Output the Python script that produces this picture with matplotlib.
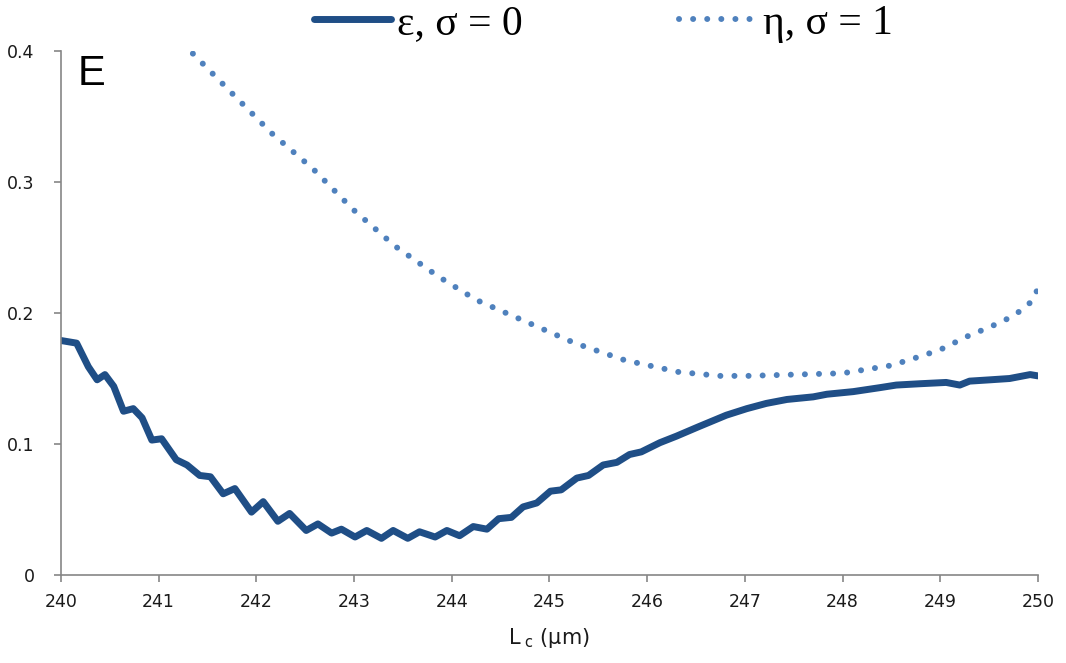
import matplotlib.pyplot as plt
from matplotlib.ticker import FuncFormatter

# values
eps_x = [240.00, 240.16, 240.28, 240.37, 240.45, 240.54, 240.64, 240.74, 240.83, 240.93,
         241.03, 241.18, 241.29, 241.42, 241.53, 241.66, 241.78, 241.95, 242.07, 242.22,
         242.34, 242.51, 242.63, 242.77, 242.87, 243.01, 243.13, 243.28, 243.40, 243.55,
         243.67, 243.83, 243.95, 244.08, 244.22, 244.36, 244.48, 244.61, 244.73, 244.87,
         245.01, 245.12, 245.28, 245.40, 245.55, 245.69, 245.82, 245.94, 246.13, 246.30,
         246.52, 246.81, 247.02, 247.22, 247.43, 247.70, 247.84, 248.11, 248.38, 248.55,
         248.79, 249.06, 249.20, 249.30, 249.51, 249.71, 249.92, 250.00]
eps_y = [0.179, 0.177, 0.159, 0.149, 0.153, 0.144, 0.125, 0.127, 0.120, 0.103,
         0.104, 0.088, 0.084, 0.076, 0.075, 0.062, 0.066, 0.048, 0.056, 0.041,
         0.047, 0.034, 0.039, 0.032, 0.035, 0.029, 0.034, 0.028, 0.034, 0.028,
         0.033, 0.029, 0.034, 0.030, 0.037, 0.035, 0.043, 0.044, 0.052, 0.055,
         0.064, 0.065, 0.074, 0.076, 0.084, 0.086, 0.092, 0.094, 0.101, 0.106,
         0.113, 0.122, 0.127, 0.131, 0.134, 0.136, 0.138, 0.140, 0.143, 0.145,
         0.146, 0.147, 0.145, 0.148, 0.149, 0.150, 0.153, 0.152]

eta_x = [241.35, 241.76, 242.16, 242.58, 242.99, 243.42, 243.86, 244.25, 244.77, 245.26,
         245.77, 246.32, 246.74, 247.03, 247.50, 248.00, 248.50, 248.80, 249.00, 249.30,
         249.50, 249.70, 249.85, 249.95, 250.00]
eta_y = [0.398, 0.367, 0.337, 0.310, 0.279, 0.251, 0.228, 0.210, 0.193, 0.177,
         0.164, 0.155, 0.152, 0.152, 0.153, 0.154, 0.160, 0.167, 0.172, 0.183,
         0.189, 0.196, 0.203, 0.210, 0.219]

DARK = "#1F4E86"
LIGHT = "#4F81BD"
GRAY = "#868686"

fig = plt.figure(figsize=(10.66, 6.63), dpi=100)
ax = fig.add_axes([0.0572, 0.1327, 0.9165, 0.7904])

ax.plot(eps_x, eps_y, color=DARK, lw=5, solid_capstyle="round", solid_joinstyle="round",
        label="ε, σ = 0")
ax.plot(eta_x, eta_y, color=LIGHT, lw=4.3, linestyle=(0, (0.01, 2.35)),
        dash_capstyle="round", label="η, σ = 1")

ax.set_xlim(240, 250)
ax.set_ylim(0, 0.4)
ax.set_xticks(range(240, 251))
ax.set_yticks([0, 0.1, 0.2, 0.3, 0.4])
ax.yaxis.set_major_formatter(FuncFormatter(lambda v, p: "0" if v == 0 else f"{v:.1f}"))

for side in ("top", "right"):
    ax.spines[side].set_visible(False)
for side in ("left", "bottom"):
    ax.spines[side].set_color(GRAY)
    ax.spines[side].set_linewidth(1.2)
ax.tick_params(axis="both", direction="out", length=5, width=1.2, color=GRAY,
               labelsize=12.5, labelcolor="#1a1a1a")
ax.tick_params(axis="y", pad=14)
ax.tick_params(axis="x", pad=8)

ax.set_xlabel("L$_\\mathregular{\\ c}$ (µm)", fontsize=15, color="#1a1a1a", labelpad=11)
ax.text(0.017, 0.995, "E", transform=ax.transAxes, fontsize=30, va="top", ha="left",
        family="Liberation Sans")

fig.legend(loc="upper center", bbox_to_anchor=(0.566, 1.05), ncol=2, frameon=False,
           prop={"family": "Liberation Serif", "size": 30}, handlelength=1.85,
           handletextpad=0.15, columnspacing=3.75)

fig.savefig("out.png", dpi=100)
